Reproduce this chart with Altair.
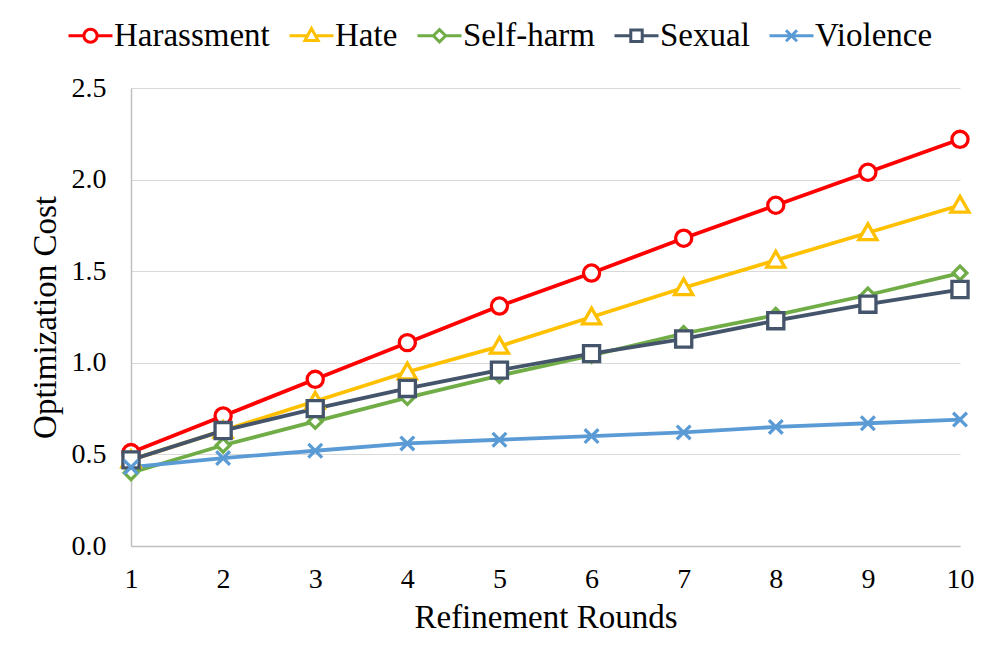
import altair as alt
import pandas as pd

rounds = list(range(1, 11))
series_names = ["Harassment", "Hate", "Self-harm", "Sexual", "Violence"]
harassment = [0.51, 0.71, 0.91, 1.11, 1.31, 1.49, 1.68, 1.86, 2.04, 2.22]
hate = [0.47, 0.63, 0.79, 0.95, 1.09, 1.25, 1.41, 1.56, 1.71, 1.86]
self_harm = [0.40, 0.55, 0.68, 0.81, 0.93, 1.04, 1.16, 1.26, 1.37, 1.49]
sexual = [0.47, 0.63, 0.75, 0.86, 0.96, 1.05, 1.13, 1.23, 1.32, 1.40]
violence = [0.43, 0.48, 0.52, 0.56, 0.58, 0.60, 0.62, 0.65, 0.67, 0.69]
y_ticks = [0.0, 0.5, 1.0, 1.5, 2.0, 2.5]

colors = ["#FF0000", "#FFC000", "#70AD47", "#44546A", "#5B9BD5"]
point_shapes = [
    "circle",
    "M0,-1.1L1.12,0.85L-1.12,0.85Z",
    "M0,-0.85L0.85,0L0,0.85L-0.85,0Z",
    "square",
    "M-0.85,-0.85L0.85,0.85M-0.85,0.85L0.85,-0.85",
]
legend_shapes = [
    "M-1,0H-0.3M0.3,0H1M0.3,0A0.3,0.3 0 1,1 -0.3,0A0.3,0.3 0 1,1 0.3,0Z",
    "M-1,0H-0.18M0.18,0H1M0,-0.33L0.3,0.22L-0.3,0.22Z",
    "M-1,0H-0.28M0.28,0H1M0,-0.28L0.28,0L0,0.28L-0.28,0Z",
    "M-1,0H-0.26M0.26,0H1M-0.26,-0.26H0.26V0.26H-0.26Z",
    "M-1,0H1M-0.25,-0.25L0.25,0.25M-0.25,0.25L0.25,-0.25",
]

rows = []
for name, vals in zip(series_names, [harassment, hate, self_harm, sexual, violence]):
    for r, v in zip(rounds, vals):
        rows.append({"Round": r, "Cost": v, "Series": name})
df = pd.DataFrame(rows)

FONT = "Liberation Serif"

x_enc = alt.X(
    "Round:Q",
    scale=alt.Scale(domain=[1, 10], nice=False, zero=False),
    axis=alt.Axis(
        values=rounds, format="d", title="Refinement Rounds", grid=False,
        ticks=False, domainColor="#BFBFBF", domainWidth=1.5, labelFlush=False,
        labelPadding=19, titlePadding=8,
    ),
)
y_enc = alt.Y(
    "Cost:Q",
    scale=alt.Scale(domain=[0, 2.5], nice=False),
    axis=alt.Axis(
        values=y_ticks, format=".1f", title="Optimization Cost", grid=True,
        gridColor="#D9D9D9", gridWidth=1.2, ticks=False, domainColor="#BFBFBF",
        domainWidth=1.5, labelPadding=25, titlePadding=9, labelFlush=False,
    ),
)

base = alt.Chart(df)

lines = base.mark_line(strokeWidth=3.8).encode(
    x=x_enc, y=y_enc,
    color=alt.Color("Series:N", scale=alt.Scale(domain=series_names, range=colors), legend=None),
    detail="Series:N",
)

points = base.mark_point(filled=False, fill="white", size=260, strokeWidth=3.3, opacity=1).encode(
    x=x_enc, y=y_enc,
    color=alt.Color("Series:N", scale=alt.Scale(domain=series_names, range=colors), legend=None),
    shape=alt.Shape("Series:N", scale=alt.Scale(domain=series_names, range=point_shapes), legend=None),
)

leg = dict(
    title=None, orient="none", direction="horizontal", legendX=-64, legendY=-76,
    symbolSize=1936, symbolStrokeWidth=3, labelFont=FONT, labelFontSize=33,
    labelColor="black", labelOffset=0, columnPadding=13, labelLimit=400,
    symbolOpacity=1,
)

legend_layer = base.transform_filter("false").mark_point(
    filled=False, size=1936, strokeWidth=3, opacity=1
).encode(
    x=x_enc, y=y_enc,
    color=alt.Color("Series:N", scale=alt.Scale(domain=series_names, range=colors), legend=alt.Legend(**leg)),
    shape=alt.Shape("Series:N", scale=alt.Scale(domain=series_names, range=legend_shapes), legend=alt.Legend(**leg)),
)

chart = alt.layer(lines, points, legend_layer).resolve_scale(
    color="independent", shape="independent"
).properties(
    width=829, height=458,
    autosize=alt.AutoSizeParams(type="none"),
    padding={"left": 123, "top": 80, "right": 25, "bottom": 110},
).configure(
    font=FONT,
).configure_axis(
    labelFont=FONT, titleFont=FONT, labelFontSize=28, titleFontSize=33,
    labelColor="black", titleColor="black", titleFontWeight="normal",
).configure_legend(
    labelFont=FONT, labelFontSize=33, labelColor="black",
).configure_view(stroke=None)

chart.save("out.html", embed_options={"renderer": "svg", "actions": False})
